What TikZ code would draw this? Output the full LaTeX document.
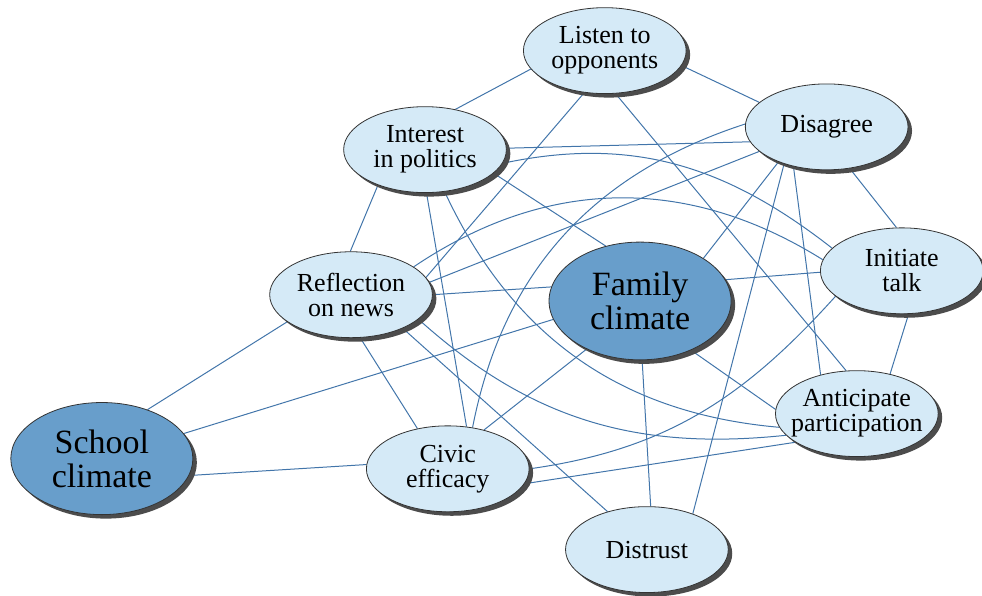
\documentclass[tikz,border=0pt]{standalone}
\usepackage{fontspec}
\setmainfont{Liberation Serif}
\usetikzlibrary{shapes,shadows,backgrounds}

\definecolor{varfill}{RGB}{213,234,247}
\definecolor{keyfill}{RGB}{104,158,203}
\definecolor{linkcol}{RGB}{66,117,170}

\begin{document}
\begin{tikzpicture}[align=center,
    var/.style={ellipse,draw=black!80,line width=0.4pt,fill=varfill,minimum width=2.86cm,minimum height=1.51cm,inner xsep=-5pt,inner ysep=0pt,font=\fontsize{13}{12.5}\selectfont,drop shadow={shadow xshift=2pt,shadow yshift=-2pt,fill=black!70,opacity=1}},
    keyvar/.style={var,fill=keyfill,minimum width=3.2cm,inner xsep=0pt,font=\fontsize{17}{17}\selectfont},
    link/.style={linkcol,line width=0.5pt}]
    \useasboundingbox (0,0) rectangle (17.26,10.47);

    % variables
      \node[var] (listen) at (10.63,9.58) {Listen to\\opponents};
      \node[var] (interest) at (7.47,7.84) {Interest\\in politics};
      \node[var] (disagree) at (14.53,8.24) {Disagree};
      \node[var] (initiate) at (15.85,5.71) {Initiate\\talk};
      \node[var] (reflect) at (6.17,5.29) {Reflection\\on news};
      \node[var] (anticip) at (15.06,3.20) {Anticipate\\participation};
      \node[var] (civic) at (7.87,2.23) {Civic\\efficacy};
      \node[var] (distrust) at (11.37,0.81) {Distrust};
      % climates
      \node[keyvar,minimum height=2.07cm] (family) at (11.25,5.18) {Family\\climate};
      \node[keyvar,minimum height=1.97cm] (school) at (1.79,2.41) {School\\climate};

    \begin{scope}[on background layer]
      % straight links
      \draw[link] (listen.194) -- (interest.53);
      \draw[link] (listen.-11) -- (disagree.160);
      \draw[link] (listen.244) -- (reflect.13);
      \draw[link] (listen.284) -- (anticip.104);
      \draw[link] (interest.1) -- (disagree.191);
      \draw[link] (interest.217) -- (reflect.91);
      \draw[link] (interest.-88) -- (civic.66);
      \draw[link] (interest.-19) -- (family.122);
      \draw[link] (disagree.-61) -- (initiate.97);
      \draw[link] (disagree.216) -- (family.34);
      \draw[link] (disagree.221) -- (distrust.38);
      \draw[link] (disagree.230) -- (anticip.133);
      \draw[link] (disagree.200) -- (reflect.9);
      \draw[link] (initiate.181) -- (family.14);
      \draw[link] (initiate.-81) -- (anticip.50);
      \draw[link] (family.171) -- (reflect.0);
      \draw[link] (family.192) -- (school.17);
      \draw[link] (family.222) -- (civic.47);
      \draw[link] (family.-88) -- (distrust.85);
      \draw[link] (family.-44) -- (anticip.177);
      \draw[link] (reflect.203) -- (school.47);
      \draw[link] (reflect.-78) -- (civic.127);
      \draw[link] (reflect.-33) -- (distrust.136);
      \draw[link] (school.-11) -- (civic.177);
      \draw[link] (civic.-11) -- (anticip.205);

      % curved links
      \draw[link] (interest.-10) to[out=12,in=142] (initiate.162);
      \draw[link] (reflect.24) to[out=34,in=148] (initiate.172);
      \draw[link] (interest.-65) to[out=-65,in=175] (anticip.190);
      \draw[link] (reflect.-20) to[out=-42,in=186] (anticip.197);
      \draw[link] (civic.0) to[out=8,in=228] (initiate.201);
      \draw[link] (disagree.178) to[out=198,in=79] (civic.59);
    \end{scope}

\end{tikzpicture}
\end{document}
